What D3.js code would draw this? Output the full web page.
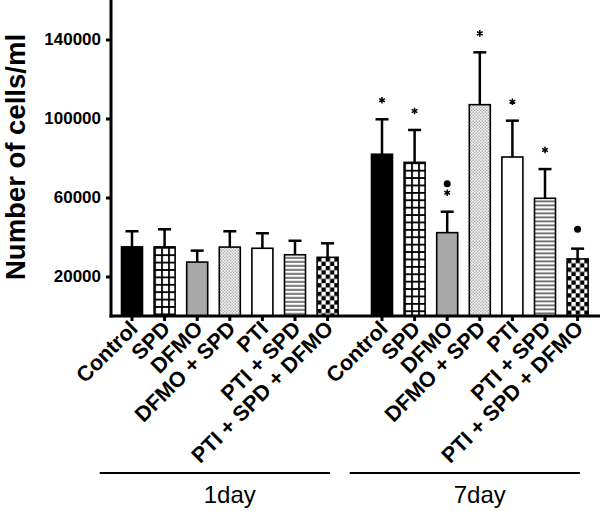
<!DOCTYPE html>
<html><head><meta charset="utf-8">
<script src="https://cdn.jsdelivr.net/npm/d3@7"></script>
<style>body{margin:0;background:#fff}svg{display:block;font-family:"Liberation Sans",Arial,sans-serif}</style>
</head><body><svg id="c" width="600" height="511"></svg>
<script>
const groups = ["1day", "7day"];
const categories = ["Control", "SPD", "DFMO", "DFMO + SPD", "PTI", "PTI + SPD", "PTI + SPD + DFMO"];
const day1Means = [35000, 35000, 27300, 34900, 34300, 31000, 29700];
const day1Errors = [7900, 8900, 5800, 8000, 7600, 7100, 7100];
const day7Means = [81900, 77800, 42200, 107000, 80500, 59600, 28900];
const day7Errors = [17700, 16400, 10600, 26500, 18400, 14800, 5200];
const day7Star = [1, 1, 1, 1, 1, 1, 0];
const day7Dot = [0, 0, 1, 0, 0, 0, 1];
const yTicks = [20000, 60000, 100000, 140000];
const fills = ["solid", "grid", "gray", "dots", "white", "hlines", "checker"];

const data = [];
groups.forEach((g, gi) => categories.forEach((c, i) => data.push({
  group: g, cat: c, idx: i,
  mean: gi === 0 ? day1Means[i] : day7Means[i],
  err: gi === 0 ? day1Errors[i] : day7Errors[i],
  star: gi === 0 ? 0 : day7Star[i],
  dot: gi === 0 ? 0 : day7Dot[i]
})));

const svg = d3.select("#c");
const y = d3.scaleLinear().domain([0, 160000]).range([316, 0]);
const x0 = d3.scaleBand().domain(groups).range([115.7, 593.9]).paddingInner(0.0872);
const x1 = d3.scaleBand().domain(categories).range([0, x0.bandwidth()]).paddingInner(0.356).paddingOuter(0.178);
const cx = d => x0(d.group) + x1(d.cat) + x1.bandwidth() / 2;

const defs = svg.append("defs");
data.forEach((d, k) => {
  const bx = x0(d.group) + x1(d.cat);
  const t = fills[d.idx];
  let p;
  if (t === "grid") {
    p = defs.append("pattern").attr("id", "p" + k).attr("patternUnits", "userSpaceOnUse")
      .attr("x", bx).attr("y", y(d.mean)).attr("width", 7).attr("height", 7.4);
    p.append("rect").attr("width", 7).attr("height", 7.4).attr("fill", "#fff");
    p.append("rect").attr("width", 1.8).attr("height", 7.4).attr("fill", "#000");
    p.append("rect").attr("width", 7).attr("height", 1.8).attr("fill", "#000");
  } else if (t === "dots") {
    p = defs.append("pattern").attr("id", "p" + k).attr("patternUnits", "userSpaceOnUse")
      .attr("x", bx).attr("y", 0).attr("width", 3).attr("height", 3);
    p.append("rect").attr("width", 3).attr("height", 3).attr("fill", "#fff");
    p.append("rect").attr("x", 0.5).attr("y", 0.5).attr("width", 1.1).attr("height", 1.1).attr("fill", "#333");
    p.append("rect").attr("x", 2).attr("y", 2).attr("width", 0.9).attr("height", 0.9).attr("fill", "#666");
  } else if (t === "hlines") {
    p = defs.append("pattern").attr("id", "p" + k).attr("patternUnits", "userSpaceOnUse")
      .attr("x", bx).attr("y", y(d.mean)).attr("width", 4).attr("height", 4);
    p.append("rect").attr("width", 4).attr("height", 4).attr("fill", "#fff");
    p.append("rect").attr("y", 2.5).attr("width", 4).attr("height", 1.2).attr("fill", "#222");
  } else if (t === "checker") {
    p = defs.append("pattern").attr("id", "p" + k).attr("patternUnits", "userSpaceOnUse")
      .attr("x", bx).attr("y", y(d.mean)).attr("width", 8.6).attr("height", 8.6);
    p.append("rect").attr("width", 8.6).attr("height", 8.6).attr("fill", "#fff");
    p.append("rect").attr("width", 4.3).attr("height", 4.3).attr("fill", "#000");
    p.append("rect").attr("x", 4.3).attr("y", 4.3).attr("width", 4.3).attr("height", 4.3).attr("fill", "#000");
  }
});
const fillOf = (d, k) => {
  const t = fills[d.idx];
  if (t === "solid") return "#000";
  if (t === "gray") return "#a9a9a9";
  if (t === "white") return "#fff";
  return "url(#p" + k + ")";
};

// error bars
const eb = svg.append("g").attr("stroke", "#000").attr("stroke-width", 2.5).attr("fill", "none");
data.forEach(d => {
  eb.append("line").attr("x1", cx(d)).attr("x2", cx(d)).attr("y1", y(d.mean)).attr("y2", y(d.mean + d.err));
  eb.append("line").attr("x1", cx(d) - 6.5).attr("x2", cx(d) + 6.5).attr("y1", y(d.mean + d.err)).attr("y2", y(d.mean + d.err));
});

// bars
svg.append("g").selectAll("rect").data(data).join("rect")
  .attr("x", d => x0(d.group) + x1(d.cat))
  .attr("y", d => y(d.mean))
  .attr("width", x1.bandwidth())
  .attr("height", d => y(0) - y(d.mean))
  .attr("fill", (d, k) => fillOf(d, k))
  .attr("stroke", "#000").attr("stroke-width", 1.6);

// stars and dots
const star = d3.symbol().type(d3.symbolAsterisk).size(30);
data.filter(d => d.star).forEach(d => {
  svg.append("path").attr("d", star)
    .attr("transform", `translate(${cx(d)},${y(d.mean + d.err) - 19})`)
    .attr("stroke", "#000").attr("stroke-width", 1.5).attr("fill", "none");
});
data.filter(d => d.dot).forEach(d => {
  svg.append("circle").attr("cx", cx(d)).attr("cy", y(d.mean + d.err) - (d.star ? 28 : 19.5))
    .attr("r", 3.5).attr("fill", "#000");
});

// y axis
const yAxis = svg.append("g").attr("transform", "translate(111,0)")
  .call(d3.axisLeft(y).tickValues(yTicks).tickSize(5).tickPadding(5).tickFormat(d3.format("d")));
yAxis.select(".domain").remove();
yAxis.selectAll(".tick line").attr("stroke-width", 3);
yAxis.selectAll(".tick text").attr("font-size", 17).attr("font-weight", "bold").attr("fill", "#000");
svg.append("line").attr("x1", 111).attr("x2", 111).attr("y1", 0).attr("y2", y(0) + 1.5)
  .attr("stroke", "#000").attr("stroke-width", 3);

// x axis
svg.append("line").attr("x1", 109.5).attr("x2", 600).attr("y1", y(0)).attr("y2", y(0))
  .attr("stroke", "#000").attr("stroke-width", 3);
svg.append("g").selectAll("line").data(data).join("line")
  .attr("x1", cx).attr("x2", cx).attr("y1", y(0)).attr("y2", y(0) + 5)
  .attr("stroke", "#000").attr("stroke-width", 3);
svg.append("g").selectAll("text").data(data).join("text")
  .attr("transform", d => `translate(${cx(d) + 7},${y(0) + 14}) rotate(-45)`)
  .attr("text-anchor", "end").attr("font-size", 21.5).attr("font-weight", "bold")
  .text(d => d.cat);

// group lines and labels
groups.forEach(g => {
  svg.append("line").attr("x1", x0(g) - 16).attr("x2", x0(g) + x0.bandwidth() - 14)
    .attr("y1", 473).attr("y2", 473).attr("stroke", "#000").attr("stroke-width", 2.2);
  svg.append("text").attr("x", x0(g) + x0.bandwidth() / 2).attr("y", 503)
    .attr("text-anchor", "middle").attr("font-size", 24).text(g);
});

// y label
svg.append("text").attr("transform", "translate(25,157) rotate(-90)")
  .attr("text-anchor", "middle").attr("font-size", 27.5).attr("font-weight", "bold")
  .text("Number of cells/ml");
</script></body></html>
